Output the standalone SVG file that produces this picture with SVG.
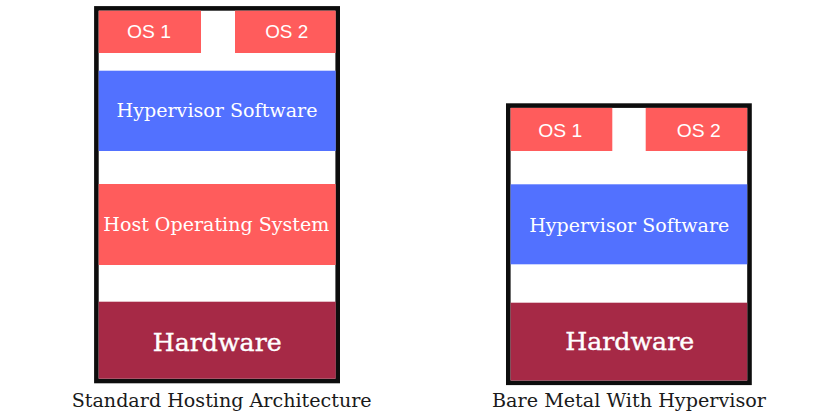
<svg xmlns="http://www.w3.org/2000/svg" width="830" height="415" viewBox="0 0 830 415">
<style>
.frame{fill:#fff;stroke:#0d0d0d;stroke-width:4.6}
.os{fill:#ff5c5c}
.hyp{fill:#5271ff}
.host{fill:#ff5c5c}
.hw{fill:#a62946}
.ost{font-family:"Liberation Sans",Arial,sans-serif;font-size:18px;fill:#fff;text-anchor:middle}
.lt{font-family:"DejaVu Serif","Liberation Serif",serif;font-size:19px;fill:#fff;text-anchor:middle}
.hwt{font-family:"DejaVu Serif","Liberation Serif",serif;font-size:25px;fill:#fff;stroke:#fff;stroke-width:0.4;text-anchor:middle}
.cap{font-family:"DejaVu Serif","Liberation Serif",serif;font-size:19px;fill:#1a1a1a;text-anchor:middle}
</style>
<rect width="830" height="415" fill="#fff"/>
<g id="standard">
  <rect class="frame" x="96.4" y="8.4" width="241.3" height="372.6"/>
  <g id="s-os1"><rect class="os" x="98.7" y="10.7" width="102.3" height="42.3"/><text class="ost" x="149" y="38" textLength="44" lengthAdjust="spacingAndGlyphs">OS 1</text></g>
  <g id="s-os2"><rect class="os" x="235" y="10.7" width="100.7" height="42.3"/><text class="ost" x="286.7" y="38" textLength="43" lengthAdjust="spacingAndGlyphs">OS 2</text></g>
  <g id="s-hyp"><rect class="hyp" x="98.7" y="70.7" width="237" height="80.3"/><text class="lt" x="217" y="117" textLength="201" lengthAdjust="spacingAndGlyphs">Hypervisor Software</text></g>
  <g id="s-host"><rect class="host" x="98.7" y="184" width="237" height="81"/><text class="lt" x="216.3" y="230.7" textLength="226" lengthAdjust="spacingAndGlyphs">Host Operating System</text></g>
  <g id="s-hw"><rect class="hw" x="98.7" y="301.7" width="237" height="77"/><text class="hwt" x="217.2" y="351" textLength="129" lengthAdjust="spacingAndGlyphs">Hardware</text></g>
  <text class="cap" x="221.7" y="406.7" textLength="300" lengthAdjust="spacingAndGlyphs">Standard Hosting Architecture</text>
</g>
<g id="baremetal">
  <rect class="frame" x="508.3" y="105.6" width="241.2" height="277.2"/>
  <g id="b-os1"><rect class="os" x="510.6" y="107.9" width="101.7" height="43.1"/><text class="ost" x="560.3" y="136.7" textLength="44" lengthAdjust="spacingAndGlyphs">OS 1</text></g>
  <g id="b-os2"><rect class="os" x="645.7" y="107.9" width="101.5" height="43.1"/><text class="ost" x="698.7" y="136.7" textLength="44" lengthAdjust="spacingAndGlyphs">OS 2</text></g>
  <g id="b-hyp"><rect class="hyp" x="510.6" y="184.3" width="236.6" height="80"/><text class="lt" x="629.3" y="231.7" textLength="200" lengthAdjust="spacingAndGlyphs">Hypervisor Software</text></g>
  <g id="b-hw"><rect class="hw" x="510.6" y="302.7" width="236.6" height="77.8"/><text class="hwt" x="629.7" y="350" textLength="129" lengthAdjust="spacingAndGlyphs">Hardware</text></g>
  <text class="cap" x="629" y="406.7" textLength="274" lengthAdjust="spacingAndGlyphs">Bare Metal With Hypervisor</text>
</g>
</svg>
